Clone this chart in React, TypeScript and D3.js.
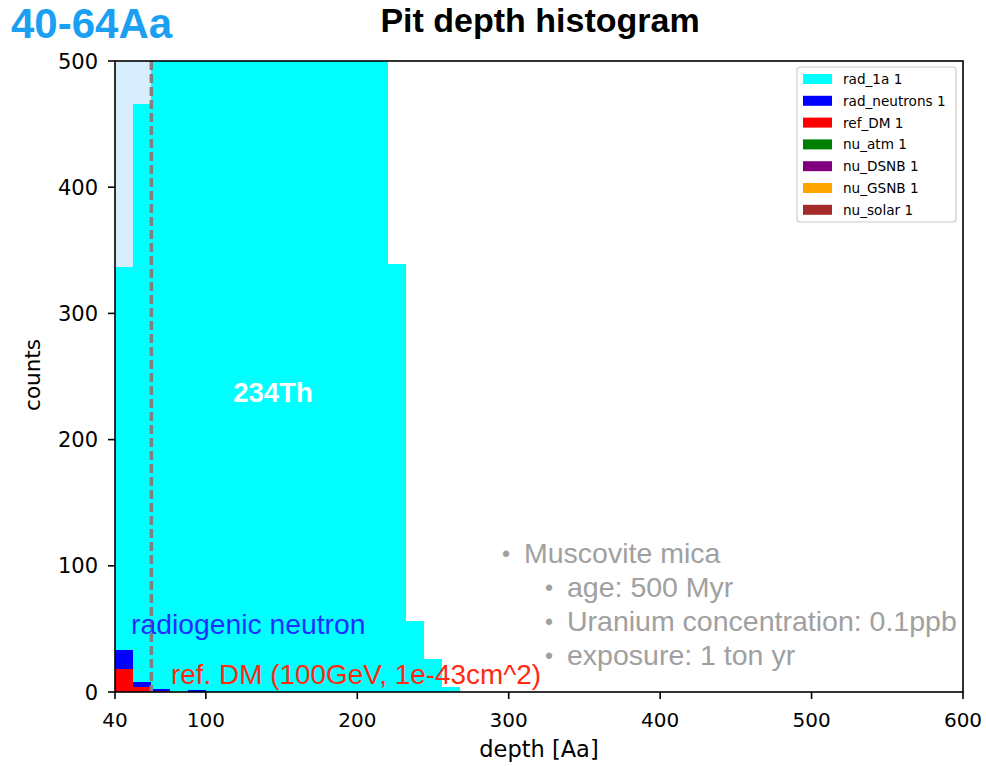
import React from "react";
import * as d3 from "d3";

const binStarts = [40, 52, 64, 76, 88, 100, 112, 124, 136, 148, 160, 172, 184, 196, 208, 220, 232, 244, 256];
const binWidth = 12;
const rad1a = [337, 466, 620, 780, 950, 1100, 1250, 1350, 1420, 1450, 1400, 1250, 1050, 800, 560, 339, 56, 26, 4];
const radNeutrons = [33, 8, 2.4, 0, 1.6, 0, 0, 0, 0, 0, 0, 0, 0, 0, 0, 0, 0, 0, 0];
const refDM = [18, 4, 0.5, 0, 0, 0, 0, 0, 0, 0, 0, 0, 0, 0, 0, 0, 0, 0, 0];
const nuAtm = [0, 0, 0, 0, 0, 0, 0, 0, 0, 0, 0, 0, 0, 0, 0, 0, 0, 0, 0];
const nuDSNB = [0, 0, 0, 0, 0, 0, 0, 0, 0, 0, 0, 0, 0, 0, 0, 0, 0, 0, 0];
const nuGSNB = [0, 0, 0, 0, 0, 0, 0, 0, 0, 0, 0, 0, 0, 0, 0, 0, 0, 0, 0];
const nuSolar = [0, 0, 0, 0, 0, 0, 0, 0, 0, 0, 0, 0, 0, 0, 0, 0, 0, 0, 0];

const seriesNames = ["rad_1a 1", "rad_neutrons 1", "ref_DM 1", "nu_atm 1", "nu_DSNB 1", "nu_GSNB 1", "nu_solar 1"];
const seriesColors = ["#00ffff", "#0000ff", "#ff0000", "#008000", "#800080", "#ffa500", "#a52a2a"];
const seriesValues = [rad1a, radNeutrons, refDM, nuAtm, nuDSNB, nuGSNB, nuSolar];

const xTicks = [40, 100, 200, 300, 400, 500, 600];
const yTicks = [0, 100, 200, 300, 400, 500];
const windowRange = [40, 64];
const infoLines = ["Muscovite mica", "age: 500 Myr", "Uranium concentration: 0.1ppb", "exposure: 1 ton yr"];
const infoLevels = [0, 1, 1, 1];

const W = 986, H = 766;
const L = 115, R = 963, T = 61, B = 692;

export default function App() {
  const x = d3.scaleLinear().domain([40, 600]).range([L, R]);
  const y = d3.scaleLinear().domain([0, 500]).range([B, T]);
  const tickFont = "'DejaVu Sans', sans-serif";
  const helv = "'Liberation Sans', Arial, sans-serif";

  return (
    <svg width={W} height={H} style={{ position: "absolute", left: 0, top: 0, background: "#fff" }}>
      <defs>
        <clipPath id="plotclip">
          <rect x={L} y={T} width={R - L} height={B - T} />
        </clipPath>
      </defs>
      <g clipPath="url(#plotclip)">
        <rect x={x(windowRange[0])} y={T} width={x(windowRange[1]) - x(windowRange[0])} height={B - T} fill="#d8eefc" />
        {seriesValues.map((vals, si) => (
          <g key={si}>
            {vals.map((v, i) =>
              v > 0 ? (
                <rect
                  key={i}
                  x={x(binStarts[i])}
                  y={y(v)}
                  width={x(binStarts[i] + binWidth) - x(binStarts[i])}
                  height={y(0) - y(v)}
                  fill={seriesColors[si]}
                  shapeRendering="crispEdges"
                />
              ) : null
            )}
          </g>
        ))}
        <line x1={x(windowRange[1])} x2={x(windowRange[1])} y1={T} y2={B} stroke="#808080" strokeWidth={3.5} strokeDasharray="9,4" />
      </g>

      {/* annotations */}
      <text x={273} y={402} textAnchor="middle" fill="#ffffff" fontFamily={helv} fontWeight="bold" fontSize={27.5}>234Th</text>
      <text x={131} y={634} fill="#1f2fff" fontFamily={helv} fontSize={28.3}>radiogenic neutron</text>
      <text x={171} y={684} fill="#ff2a10" fontFamily={helv} fontSize={27.9}>ref. DM (100GeV, 1e-43cm^2)</text>
      {infoLines.map((s, i) => {
        const bx = infoLevels[i] === 0 ? 502 : 545;
        const by = 563 + i * 34;
        return (
          <g key={i} fill="#a0a0a0" fontFamily={helv}>
            <text x={bx} y={by - 1} fontSize={23}>•</text>
            <text x={bx + 22} y={by} fontSize={28.5}>{s}</text>
          </g>
        );
      })}

      {/* axes frame */}
      <rect x={L} y={T} width={R - L} height={B - T} fill="none" stroke="#000" strokeWidth={1.6} />
      {xTicks.map((t) => (
        <g key={t}>
          <line x1={x(t)} x2={x(t)} y1={B} y2={B + 7} stroke="#000" strokeWidth={1.6} />
          <text x={x(t)} y={727} textAnchor="middle" fontFamily={tickFont} fontSize={20}>{t}</text>
        </g>
      ))}
      {yTicks.map((t) => (
        <g key={t}>
          <line x1={L - 7} x2={L} y1={y(t)} y2={y(t)} stroke="#000" strokeWidth={1.6} />
          <text x={L - 17} y={y(t) + 7.5} textAnchor="end" fontFamily={tickFont} fontSize={21}>{t}</text>
        </g>
      ))}
      <text x={539} y={757} textAnchor="middle" fontFamily={tickFont} fontSize={22.5}>depth [Aa]</text>
      <text transform="translate(40,375) rotate(-90)" textAnchor="middle" fontFamily={tickFont} fontSize={21.5}>counts</text>

      {/* titles */}
      <text x={540} y={32} textAnchor="middle" fontFamily={helv} fontWeight="bold" fontSize={34}>Pit depth histogram</text>
      <text x={11} y={38} fontFamily={helv} fontWeight="bold" fontSize={42} fill="#1a9ff2">40-64Aa</text>

      {/* legend */}
      <rect x={797} y={67} width={159} height={155} rx={3} fill="#fff" fillOpacity={0.8} stroke="#cccccc" strokeWidth={1.2} />
      {seriesNames.map((n, i) => (
        <g key={n}>
          <rect x={803} y={74 + i * 21.8} width={29} height={10} fill={seriesColors[i]} />
          <text x={843} y={84 + i * 21.8} fontFamily={tickFont} fontSize={13.6}>{n}</text>
        </g>
      ))}
    </svg>
  );
}
